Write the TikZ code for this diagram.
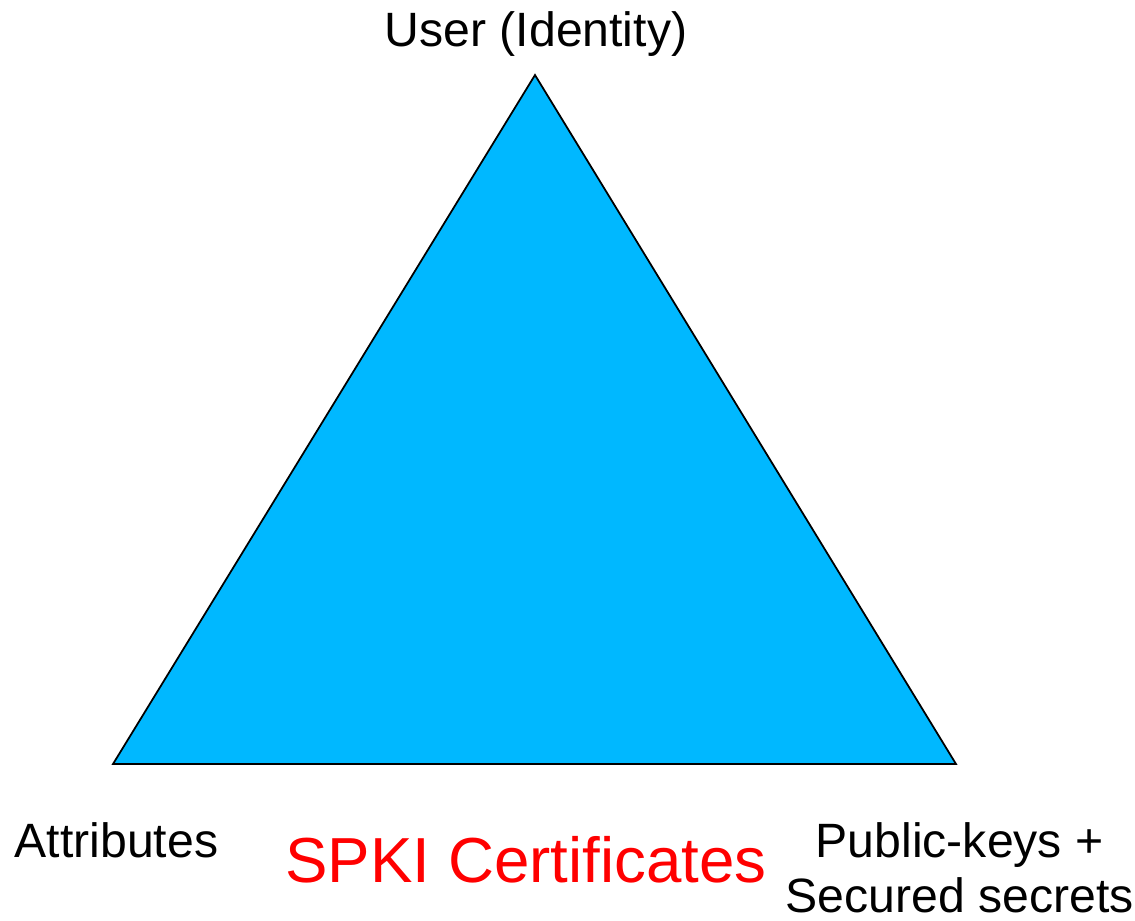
\documentclass[tikz,border=0pt]{standalone}
\usepackage{fontspec}
\setmainfont{Liberation Sans}
\usetikzlibrary{calc}
\definecolor{spkiblue}{RGB}{0,184,255}
\definecolor{spkired}{RGB}{255,0,0}

\begin{document}
\begin{tikzpicture}[x=0.01cm,y=-0.01cm,
    corner/.style={font=\fontsize{13.7}{15.8}\selectfont, anchor=base, inner sep=0pt},
    title/.style={font=\fontsize{18.1}{21}\selectfont, text=spkired, anchor=base, inner sep=0pt}]
    \useasboundingbox (0,0) rectangle (1135,920);
    \coordinate (U) at (535,75);
    \coordinate (A) at (113,764);
    \coordinate (P) at (956,764);
    
    \draw[fill=spkiblue, line width=0.5pt, line join=miter]
    	(A) -- (U) -- (P) -- cycle;
    
    \node[corner] (user) at (536,46) {User (Identity)};
    \node[corner, anchor=base west] (attr) at (14,857) {Attributes};
    \node[corner, anchor=base west] (pub) at (815,857) {Public-keys +};
    \node[corner, anchor=base west] (sec) at (785,912) {Secured secrets};
    \node[title] (spki) at (526,882) {SPKI Certificates};
    
\end{tikzpicture}
\end{document}
